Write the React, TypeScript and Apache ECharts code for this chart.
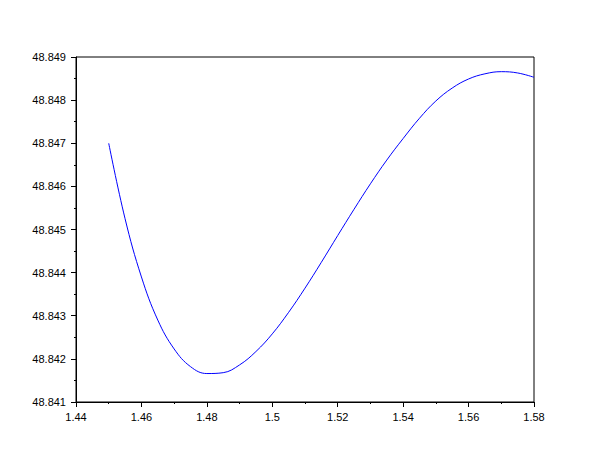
import React, { useEffect, useRef } from "react";
import * as echarts from "echarts";

const xValues = [1.45, 1.455, 1.46, 1.465, 1.47, 1.475, 1.48, 1.485, 1.49, 1.495, 1.5, 1.505, 1.51, 1.515, 1.52, 1.525, 1.53, 1.535, 1.54, 1.545, 1.55, 1.555, 1.56, 1.565, 1.57, 1.575, 1.58];
const yValues = [48.847, 48.84525, 48.8439, 48.8429, 48.84223, 48.84182, 48.84166, 48.84168, 48.84186, 48.84217, 48.84258, 48.84308, 48.84364, 48.84424, 48.84486, 48.84547, 48.84606, 48.84661, 48.84711, 48.84758, 48.84798, 48.84828, 48.84849, 48.84861, 48.84866, 48.84863, 48.84853];

const xMin = 1.44, xMax = 1.58, xStep = 0.02;
const yMin = 48.841, yMax = 48.849, yStep = 0.001;

export default function App() {
  const ref = useRef<HTMLDivElement>(null);
  useEffect(() => {
    document.body.style.margin = "0";
    const chart = echarts.init(ref.current!, null, { renderer: "svg" });
    const font = { fontFamily: "Liberation Sans", fontSize: 11, color: "#000" };
    chart.setOption({
      animation: false,
      backgroundColor: "#fff",
      grid: { left: 76, top: 57, right: 76, bottom: 58, show: true, borderColor: "#000", borderWidth: 1, backgroundColor: "transparent" },
      xAxis: {
        type: "value", min: xMin, max: xMax, interval: xStep,
        axisLine: { show: true, lineStyle: { color: "#000", width: 1 } },
        axisTick: { show: true, inside: false, length: 5, lineStyle: { color: "#000" } },
        minorTick: { show: true, splitNumber: 2, length: 2, lineStyle: { color: "#000" } },
        splitLine: { show: false },
        axisLabel: { ...font, margin: 9 },
      },
      yAxis: {
        type: "value", min: yMin, max: yMax, interval: yStep,
        axisLine: { show: true, lineStyle: { color: "#000", width: 1 } },
        axisTick: { show: true, inside: false, length: 5, lineStyle: { color: "#000" } },
        minorTick: { show: true, splitNumber: 2, length: 2, lineStyle: { color: "#000" } },
        splitLine: { show: false },
        axisLabel: { ...font, margin: 10 },
      },
      series: [{
        type: "line",
        data: xValues.map((x, i) => [x, yValues[i]]),
        smooth: 0.4,
        showSymbol: false,
        lineStyle: { color: "#0000ff", width: 1 },
      }],
    });
    return () => chart.dispose();
  }, []);
  return <div ref={ref} style={{ width: 610, height: 460 }} />;
}
